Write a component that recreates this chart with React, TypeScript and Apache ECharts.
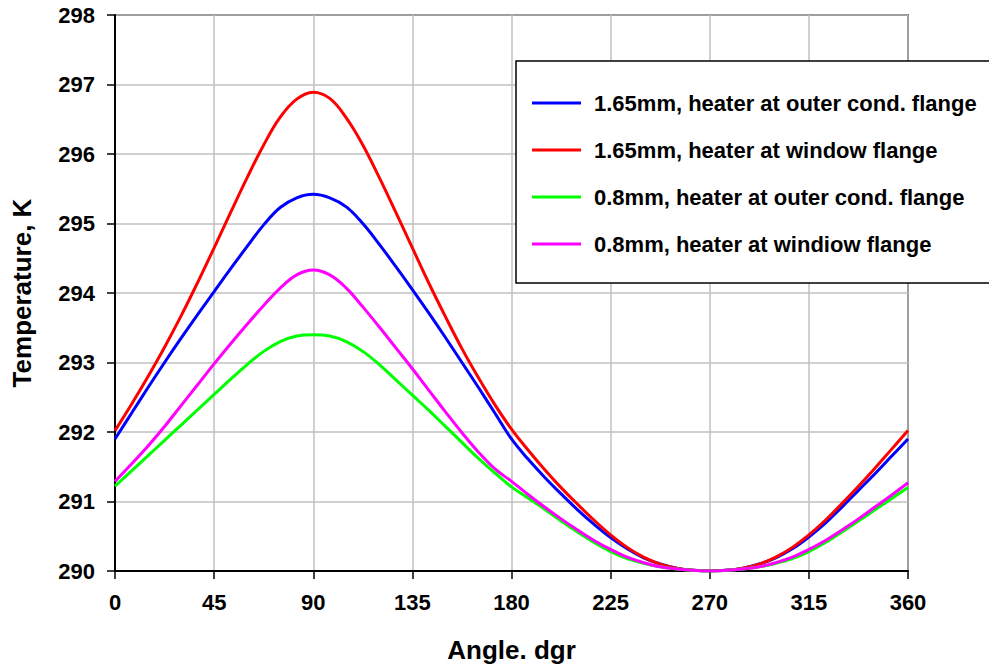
import React, { useEffect, useRef } from "react";
import * as echarts from "echarts";

const angles = [
  0, 7.5, 15, 22.5, 30, 37.5, 45, 52.5, 60, 67.5, 75, 82.5, 90,
  97.5, 105, 112.5, 120, 127.5, 135, 142.5, 150, 157.5, 165, 172.5, 180,
  187.5, 195, 202.5, 210, 217.5, 225, 232.5, 240, 247.5, 255, 262.5, 270,
  277.5, 285, 292.5, 300, 307.5, 315, 322.5, 330, 337.5, 345, 352.5, 360,
];

const blueOuter165 = [
  291.9, 292.27, 292.64, 293.0, 293.35, 293.69, 294.02, 294.35, 294.67, 294.98, 295.23, 295.37, 295.42,
  295.37, 295.24, 295.0, 294.7, 294.38, 294.05, 293.71, 293.36, 293.0, 292.64, 292.27, 291.9,
  291.61, 291.35, 291.11, 290.88, 290.67, 290.48, 290.32, 290.19, 290.1, 290.04, 290.01, 290.0,
  290.01, 290.04, 290.1, 290.19, 290.32, 290.49, 290.69, 290.92, 291.16, 291.4, 291.65, 291.9,
];
const redWindow165 = [
  292.02, 292.4, 292.8, 293.22, 293.67, 294.15, 294.65, 295.16, 295.66, 296.13, 296.53, 296.79, 296.89,
  296.8, 296.52, 296.13, 295.66, 295.16, 294.65, 294.14, 293.66, 293.2, 292.78, 292.39, 292.04,
  291.74, 291.46, 291.2, 290.96, 290.73, 290.52, 290.34, 290.2, 290.1, 290.04, 290.01, 290.0,
  290.01, 290.04, 290.1, 290.2, 290.34, 290.52, 290.73, 290.97, 291.22, 291.48, 291.75, 292.02,
];
const greenOuter08 = [
  291.22, 291.44, 291.66, 291.88, 292.1, 292.32, 292.54, 292.76, 292.97, 293.16, 293.3, 293.38, 293.4,
  293.38, 293.3, 293.16, 292.97, 292.75, 292.53, 292.31, 292.08, 291.85, 291.62, 291.41, 291.21,
  291.05, 290.89, 290.72, 290.56, 290.41, 290.28, 290.18, 290.11, 290.06, 290.03, 290.01, 290.0,
  290.01, 290.03, 290.06, 290.11, 290.18, 290.28, 290.41, 290.56, 290.72, 290.88, 291.04, 291.2,
];
const magentaWindow08 = [
  291.29, 291.54, 291.8, 292.08, 292.38, 292.68, 292.98, 293.27, 293.55, 293.82, 294.07, 294.26, 294.33,
  294.26, 294.07, 293.8, 293.51, 293.21, 292.91, 292.6, 292.29, 291.99, 291.71, 291.47, 291.29,
  291.1, 290.92, 290.75, 290.59, 290.44, 290.31, 290.2, 290.12, 290.06, 290.03, 290.01, 290.0,
  290.01, 290.03, 290.06, 290.12, 290.2, 290.31, 290.44, 290.59, 290.75, 290.92, 291.09, 291.27,
];

const seriesNames = [
  "1.65mm, heater at outer cond. flange",
  "1.65mm, heater at window flange",
  "0.8mm, heater at outer cond. flange",
  "0.8mm, heater at windiow flange",
];
const seriesColors = ["#0000FF", "#FF0000", "#00FF00", "#FF00FF"];
const seriesValues = [blueOuter165, redWindow165, greenOuter08, magentaWindow08];

const FONT = "'Liberation Sans', Arial, sans-serif";

export default function App() {
  const ref = useRef<HTMLDivElement>(null);
  useEffect(() => {
    if (!ref.current) return;
    const chart = echarts.init(ref.current, null, { renderer: "svg" });
    chart.setOption({
      animation: false,
      backgroundColor: "#ffffff",
      textStyle: { fontFamily: FONT },
      grid: {
        left: 115,
        top: 15,
        right: 81,
        bottom: 99,
        show: true,
        borderColor: "#000",
        borderWidth: 1.5,
        backgroundColor: "transparent",
      },
      legend: {
        orient: "vertical",
        left: 516,
        top: 61,
        padding: [31, 20, 28, 16],
        itemGap: 25,
        itemWidth: 49,
        itemHeight: 3,
        icon: "rect",
        backgroundColor: "#ffffff",
        borderColor: "#000",
        borderWidth: 1.5,
        borderRadius: 0,
        data: seriesNames,
        textStyle: {
          fontFamily: FONT,
          fontWeight: "bold",
          fontSize: 22,
          color: "#000",
          padding: [0, 0, 0, 8],
        },
      },
      xAxis: {
        type: "value",
        min: 0,
        max: 360,
        interval: 45,
        name: "Angle. dgr",
        nameLocation: "middle",
        nameGap: 66,
        nameTextStyle: { fontFamily: FONT, fontWeight: "bold", fontSize: 26, color: "#000" },
        axisLine: { show: true, lineStyle: { color: "#000", width: 2 } },
        axisTick: { show: true, inside: false, length: 8, lineStyle: { color: "#000", width: 1.5 } },
        axisLabel: { margin: 20, fontFamily: FONT, fontWeight: "bold", fontSize: 22, color: "#000" },
        splitLine: { show: true, lineStyle: { color: "#c0c0c0", width: 1.5 } },
      },
      yAxis: {
        type: "value",
        min: 290,
        max: 298,
        interval: 1,
        name: "Temperature, K",
        nameLocation: "middle",
        nameGap: 80,
        nameTextStyle: { fontFamily: FONT, fontWeight: "bold", fontSize: 26, color: "#000" },
        axisLine: { show: true, lineStyle: { color: "#000", width: 2 } },
        axisTick: { show: true, inside: false, length: 8, lineStyle: { color: "#000", width: 1.5 } },
        axisLabel: { margin: 20, fontFamily: FONT, fontWeight: "bold", fontSize: 22, color: "#000" },
        splitLine: { show: true, lineStyle: { color: "#c0c0c0", width: 1.5 } },
      },
      series: seriesNames.map((name, i) => ({
        name,
        type: "line",
        data: angles.map((a, j) => [a, seriesValues[i][j]]),
        smooth: 0.4,
        symbol: "none",
        showSymbol: false,
        color: seriesColors[i],
        lineStyle: { color: seriesColors[i], width: 3 },
        z: 2 + i,
      })),
    });
    return () => chart.dispose();
  }, []);
  return (
    <div
      ref={ref}
      style={{ position: "fixed", left: 0, top: 0, width: 989, height: 670 }}
    />
  );
}
